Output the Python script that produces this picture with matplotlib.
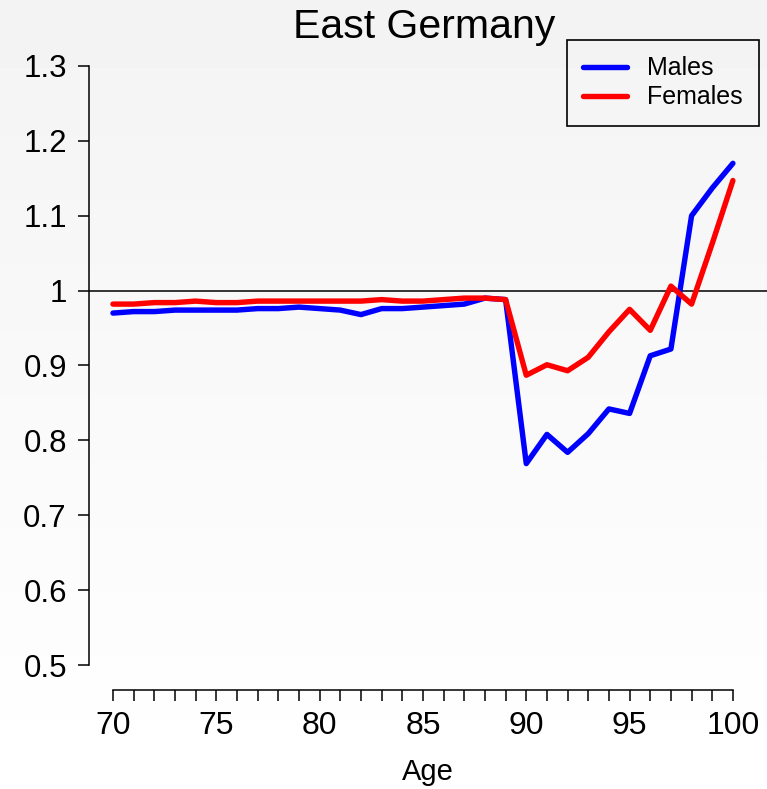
import numpy as np
import matplotlib
matplotlib.use("Agg")
import matplotlib.pyplot as plt
from matplotlib.ticker import MultipleLocator, FixedLocator

# ratio by single year of age, East Germany
ages = list(range(70, 101))
males = [0.970, 0.972, 0.972, 0.974, 0.974, 0.974, 0.974, 0.976, 0.976, 0.978,
         0.976, 0.974, 0.968, 0.976, 0.976, 0.978, 0.980, 0.982, 0.990, 0.988,
         0.769, 0.808, 0.784, 0.809, 0.842, 0.836, 0.913, 0.922, 1.100, 1.137,
         1.170]
females = [0.982, 0.982, 0.984, 0.984, 0.986, 0.984, 0.984, 0.986, 0.986, 0.986,
           0.986, 0.986, 0.986, 0.988, 0.986, 0.986, 0.988, 0.990, 0.990, 0.988,
           0.887, 0.901, 0.893, 0.911, 0.945, 0.975, 0.947, 1.006, 0.982, 1.063,
           1.147]
y_ticks = [0.5, 0.6, 0.7, 0.8, 0.9, 1.0, 1.1, 1.2, 1.3]
y_tick_labels = ["0.5", "0.6", "0.7", "0.8", "0.9", "1", "1.1", "1.2", "1.3"]

plt.rcParams['font.family'] = ['Liberation Sans', 'DejaVu Sans']

W, H = 767, 789
fig = plt.figure(figsize=(W / 100, H / 100), dpi=100)

# soft grey-to-white background
bg = fig.add_axes([0, 0, 1, 1], zorder=-10)
grad = np.linspace(0.953, 1.0, 256).reshape(-1, 1)
bg.imshow(grad, cmap="gray", vmin=0, vmax=1, aspect="auto", extent=[0, 1, 0, 1])
bg.axis("off")

ax = fig.add_axes([89 / W, 1 - 690 / H, 1 - 89 / W, (690 - 40) / H])
ax.patch.set_alpha(0)

ax.plot(ages, males, color="#0000ff", lw=3.9, label="Males", solid_capstyle="round")
ax.plot(ages, females, color="#ff0000", lw=3.9, label="Females", solid_capstyle="round")
ax.axhline(1.0, color="black", lw=1.1, zorder=1)

ax.set_xlim(68.84, 101.65)
ax.set_ylim(0.5 - 25 / 749, 1.3 + 26 / 749)

for s in ["top", "right"]:
    ax.spines[s].set_visible(False)
ax.spines["left"].set_bounds(0.5, 1.3)
ax.spines["bottom"].set_bounds(70, 100)
ax.spines["left"].set_linewidth(1.1)
ax.spines["bottom"].set_linewidth(1.1)

ax.set_yticks(y_ticks)
ax.set_yticklabels(y_tick_labels)
ax.xaxis.set_major_locator(MultipleLocator(5))
ax.xaxis.set_minor_locator(FixedLocator(ages))
ax.tick_params(axis="both", which="both", direction="out", length=8, width=1.1)
ax.tick_params(axis="y", pad=8, labelsize=22.5)
ax.tick_params(axis="x", pad=7, labelsize=23)

ax.set_xlabel("Age", fontsize=21, labelpad=12)

fig.text(424 / W, 1 - 38 / H, "East Germany", fontsize=29.5, ha="center", va="baseline")

leg = ax.legend(loc="upper right", bbox_to_anchor=(759 / W, 1 - 40 / H),
                bbox_transform=fig.transFigure, borderaxespad=0, fontsize=18,
                fancybox=False, edgecolor="black", facecolor="none", framealpha=1,
                handlelength=1.75, handletextpad=0.8, labelspacing=0.2,
                borderpad=0.65)
leg.get_frame().set_linewidth(1.2)

fig.savefig("out.png", dpi=100)
